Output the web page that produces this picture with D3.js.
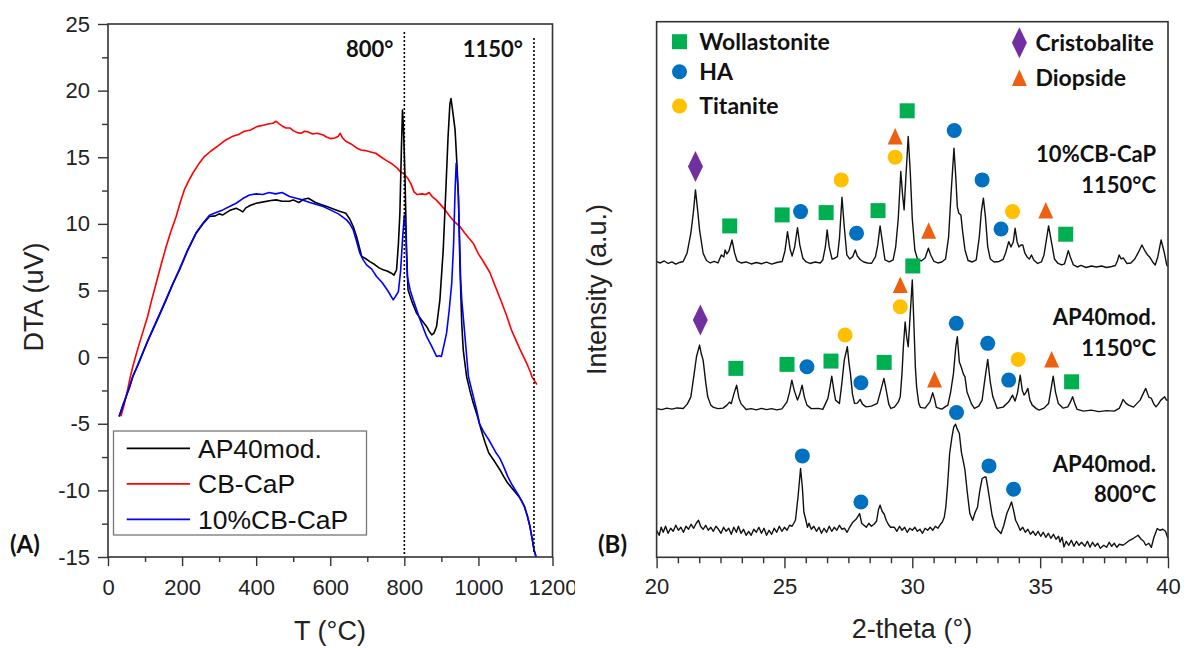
<!DOCTYPE html>
<html>
<head>
<meta charset="utf-8">
<script src="https://cdn.jsdelivr.net/npm/d3@7"></script>
<style>
  html, body { margin: 0; padding: 0; background: #fff; }
  svg { display: block; }
  .num { font-family: "Liberation Sans", Arial, sans-serif; font-size: 22px; fill: #222; }
  .title { font-family: "Liberation Sans", Arial, sans-serif; font-size: 27px; fill: #222; }
  .bold { font-family: Lato, "Open Sans", sans-serif; font-weight: 700; fill: #111; }
</style>
</head>
<body>
<script>
// ---------- Panel A: DTA curves, [temperature °C, DTA uV] ----------
const dtaAP40 = [
  [30,-4.45],[40,-3.7],[49,-2.95],[58,-2.3],[67,-1.45],[80,-0.65],[94,0.3],[107,1.2],[121,2.05],[138,3.1],
  [157,4.3],[175,5.5],[193,6.55],[215,8.0],[238,9.3],[255,9.95],[274,10.55],[290,10.6],[300,10.75],[310,10.67],
  [328,11.0],[346,11.17],[355,11.05],[364,10.9],[372,11.2],[385,11.4],[400,11.55],[420,11.65],[440,11.75],[454,11.8],
  [470,11.7],[490,11.7],[500,11.8],[515,11.6],[528,11.85],[541,11.92],[560,11.6],[575,11.45],[591,11.3],[610,11.1],
  [625,10.95],[642,10.8],[653,10.35],[662,9.8],[671,9.05],[678,8.3],[685,7.55],[695,7.4],[707,7.17],[720,6.95],
  [732,6.7],[743,6.55],[755,6.45],[765,6.3],[772,6.15],[779,6.55],[784,8.5],[788,10.8],[792,15.5],[795,18.55],
  [798,17.0],[802,13.3],[806,8.0],[810,5.05],[820,4.2],[833,3.3],[846,2.8],[860,2.3],[868,1.9],[874,1.67],
  [880,1.8],[887,2.3],[896,4.3],[905,8.05],[912,12.5],[918,16.5],[923,19.0],[926,19.4],[930,18.6],[937,17.05],
  [942,14.5],[946,12.05],[950,7.0],[955,2.5],[959,0.55],[968,-1.45],[977,-2.5],[986,-3.45],[997,-4.4],[1008,-5.5],
  [1018,-6.4],[1028,-7.2],[1043,-7.8],[1058,-8.45],[1068,-8.95],[1079,-9.45],[1094,-9.95],[1109,-10.45],[1117,-10.8],
  [1124,-11.2],[1132,-11.9],[1139,-12.7],[1145,-13.6],[1150,-14.45],[1155,-14.95]
];
const dtaCBCaP = [
  [35,-4.45],[44,-3.5],[53,-2.45],[60,-1.5],[67,-0.7],[76,0.2],[85,1.05],[96,2.05],[107,3.05],[118,4.3],
  [130,5.55],[143,6.9],[157,8.3],[170,9.45],[184,10.55],[195,11.6],[206,12.55],[218,13.25],[229,13.8],[245,14.5],
  [260,15.05],[277,15.45],[297,15.85],[318,16.3],[335,16.55],[352,16.7],[368,16.95],[385,17.05],[402,17.3],[419,17.4],
  [432,17.5],[445,17.55],[454,17.7],[462,17.5],[470,17.35],[480,17.2],[491,17.2],[500,17.0],[511,16.85],[521,16.8],
  [531,16.95],[541,16.9],[552,16.75],[565,16.8],[581,16.67],[591,16.5],[600,16.4],[612,16.45],[621,16.55],[627,16.8],
  [633,16.45],[642,16.2],[656,16.0],[671,15.7],[683,15.55],[695,15.5],[709,15.4],[723,15.3],[738,15.0],[752,14.75],
  [764,14.55],[780,14.2],[790,13.9],[799,13.75],[810,13.4],[818,13.0],[826,12.4],[835,12.2],[848,12.25],[858,12.2],
  [867,12.35],[875,12.05],[886,11.8],[896,11.5],[910,11.05],[923,10.55],[936,10.15],[950,9.8],[962,9.35],[975,8.9],
  [986,8.55],[1000,7.75],[1015,7.1],[1031,6.35],[1045,5.35],[1060,4.3],[1075,3.2],[1089,2.05],[1100,1.35],[1112,0.6],
  [1125,-0.15],[1134,-0.7],[1140,-1.1],[1145,-1.5],[1152,-1.8],[1158,-2.05]
];
const dta10CB = [
  [30,-4.45],[40,-3.6],[49,-2.95],[58,-2.2],[67,-1.45],[80,-0.6],[94,0.35],[107,1.2],[121,2.1],[138,3.15],
  [157,4.35],[175,5.5],[193,6.6],[215,8.05],[238,9.35],[255,10.0],[274,10.65],[292,10.85],[310,11.05],[328,11.3],
  [346,11.55],[364,11.9],[382,12.17],[400,12.25],[418,12.2],[435,12.35],[452,12.25],[470,12.35],[490,12.05],[508,11.92],
  [525,11.8],[545,11.6],[563,11.45],[581,11.3],[600,11.05],[622,10.75],[644,10.3],[653,10.0],[662,9.55],[671,8.7],
  [680,7.8],[689,7.3],[698,6.92],[712,6.6],[725,6.05],[740,5.6],[755,5.0],[770,4.3],[776,4.55],[784,4.92],
  [790,6.5],[795,8.8],[800,10.67],[804,9.5],[808,6.05],[816,5.0],[824,4.3],[840,3.0],[860,1.55],[874,0.8],
  [887,0.05],[894,0.1],[900,0.05],[907,0.9],[914,1.8],[921,3.5],[928,5.55],[933,8.5],[937,12.5],[940,14.55],
  [943,13.5],[946,12.05],[949,9.0],[952,5.8],[955,4.3],[959,3.05],[966,0.8],[973,-1.45],[984,-2.7],[995,-3.95],
  [1003,-5.0],[1012,-5.5],[1022,-5.95],[1028,-6.2],[1038,-6.7],[1048,-7.2],[1058,-7.6],[1068,-8.2],[1079,-8.95],[1089,-9.5],
  [1099,-9.95],[1111,-10.5],[1124,-11.2],[1132,-11.9],[1139,-12.7],[1145,-13.6],[1150,-14.45],[1156,-15.0]
];
const dtaSeriesNames = ["AP40mod.", "CB-CaP", "10%CB-CaP"];
const dtaSeriesColors = ["#000000", "#ff0000", "#0000ff"];
const dtaMarkTemps = [800, 1150];
const dtaMarkLabels = ["800°", "1150°"];
const dtaXTicks = [0, 200, 400, 600, 800, 1000, 1200];
const dtaYTicks = [-15, -10, -5, 0, 5, 10, 15, 20, 25];

// ---------- Panel B: XRD patterns, [2-theta °, intensity a.u. above own baseline] ----------
const xrd10CB1150 = [
  [20.0,5.3],[20.15,4.0],[20.3,6.0],[20.45,3.5],[20.6,5.0],[20.75,2.8],[20.9,4.5],[21.04,5.5],[21.19,13.7],[21.34,33.7],
  [21.44,55],[21.52,77],[21.6,58],[21.68,37],[21.82,13.7],[21.95,6.5],[22.1,4.0],[22.25,5.5],[22.4,4.0],[22.53,12],
  [22.63,10],[22.68,17],[22.75,13],[22.83,16],[22.95,27],[23.05,14],[23.15,6.0],[23.3,4.0],[23.5,5.0],[23.7,3.0],
  [23.9,4.5],[24.1,3.2],[24.3,4.8],[24.5,2.8],[24.7,4.5],[24.91,5.5],[25.02,16],[25.12,35.3],[25.22,18],[25.3,11],
  [25.4,20],[25.51,39.3],[25.6,22],[25.72,8.7],[25.85,5.0],[26.0,3.5],[26.2,5.0],[26.4,4.0],[26.5,7.0],[26.6,20],
  [26.67,37],[26.75,20],[26.86,8.0],[26.95,8.5],[27.07,10.3],[27.15,28],[27.25,69.7],[27.34,40],[27.44,12],[27.55,8.0],
  [27.67,10.3],[27.77,17],[27.85,11],[27.96,7.5],[28.1,5.0],[28.25,4.0],[28.41,3.7],[28.56,10.3],[28.65,22],[28.74,41],
  [28.83,25],[28.93,7.0],[29.1,5.0],[29.25,7.0],[29.35,20],[29.45,48],[29.55,95.3],[29.62,72],[29.68,57],[29.75,90],
  [29.84,130.3],[29.92,95],[30.0,48],[30.1,17],[30.2,8.0],[30.35,6.0],[30.5,9.0],[30.63,18.7],[30.72,12],[30.85,5.5],
  [31.0,4.0],[31.15,5.0],[31.3,8.0],[31.42,30],[31.52,75],[31.63,118.7],[31.7,90],[31.76,60],[31.82,53.7],[31.9,52],
  [31.97,35],[32.06,17],[32.18,6.5],[32.35,5.0],[32.5,7.0],[32.62,30],[32.7,55],[32.78,68.7],[32.86,50],[32.95,20],
  [33.05,8.0],[33.2,5.0],[33.4,5.5],[33.55,7.5],[33.65,14],[33.77,25.3],[33.86,20],[33.95,25],[34.02,38.7],[34.1,25],
  [34.17,20],[34.25,22],[34.32,22],[34.4,14],[34.49,10],[34.58,8.0],[34.66,12],[34.75,7.0],[34.9,3.5],[35.05,5.0],
  [35.15,12],[35.25,28],[35.33,41],[35.42,28],[35.56,8.0],[35.7,3.5],[35.85,2.0],[35.95,3.0],[36.02,9.0],[36.1,16.3],
  [36.18,10],[36.3,2.0],[36.45,0.0],[36.6,1.5],[36.8,-0.5],[37.0,1.0],[37.2,0.0],[37.4,1.0],[37.6,-0.5],[37.8,0.5],
  [37.94,1.5],[38.02,6],[38.09,12],[38.17,8],[38.25,9],[38.39,3.5],[38.55,4.0],[38.7,8.0],[38.83,14],[38.98,22],
  [39.1,16],[39.2,12],[39.28,10],[39.4,5.0],[39.5,2.0],[39.6,10],[39.73,27],[39.85,15],[39.95,2.0],[40.0,0.3]
];
const xrdAP401150 = [
  [20.0,3.5],[20.2,2.5],[20.4,4.0],[20.6,3.0],[20.8,4.2],[21.04,3.7],[21.2,8],[21.34,15.3],[21.45,35],[21.56,55.3],
  [21.68,67],[21.75,58],[21.82,52],[21.92,30],[22.0,15.3],[22.12,7],[22.23,4.7],[22.4,3.5],[22.6,4.0],[22.75,7.0],
  [22.85,10],[22.92,8.5],[23.02,18],[23.13,27],[23.22,14],[23.3,8.5],[23.5,2.7],[23.7,3.5],[23.9,2.2],[24.1,3.8],
  [24.3,2.5],[24.5,3.5],[24.7,2.2],[24.9,3.2],[25.1,10.3],[25.2,20],[25.29,32],[25.38,22],[25.51,12],[25.6,18],
  [25.69,27],[25.78,15],[25.88,7],[26.05,3.5],[26.33,3.7],[26.5,2.8],[26.7,13.7],[26.78,25],[26.85,36],[26.93,22],
  [27.0,12],[27.15,8.7],[27.25,30],[27.34,52],[27.46,65.3],[27.52,50],[27.58,38.7],[27.66,18],[27.74,8.7],[27.85,9.0],
  [27.96,12.7],[28.05,8.0],[28.19,5.3],[28.4,6.0],[28.63,8.7],[28.75,20],[28.89,33.7],[28.98,22],[29.08,8],[29.16,3.7],
  [29.3,5.0],[29.45,10],[29.53,15.3],[29.6,40],[29.65,65],[29.72,90],[29.78,75],[29.84,65.3],[29.9,90],[30.0,132],
  [30.06,90],[30.12,45],[30.17,25],[30.25,9.0],[30.32,4.7],[30.5,4.0],[30.69,10.3],[30.8,19.3],[30.88,12],[30.94,4.7],
  [31.15,3.0],[31.39,7.0],[31.5,20],[31.61,38.7],[31.7,65],[31.76,75.3],[31.84,50],[31.91,45.3],[32.0,38],[32.06,35.3],
  [32.14,20],[32.21,15.3],[32.32,8],[32.43,3.7],[32.6,6.0],[32.73,12],[32.85,35],[32.95,52.7],[33.05,30],[33.15,15.3],
  [33.32,3.7],[33.55,5.0],[33.77,10.3],[33.92,17],[34.02,11],[34.12,20],[34.22,37],[34.3,22],[34.37,17],[34.45,20],
  [34.52,23.7],[34.6,12],[34.69,7],[34.85,3.5],[34.96,2.0],[35.15,4.0],[35.33,8.7],[35.42,22],[35.51,36],[35.6,20],
  [35.71,8.7],[35.9,4.0],[36.08,5.3],[36.18,10],[36.27,15.3],[36.36,8],[36.45,2.7],[36.7,1.0],[37.0,2.0],[37.3,0.5],
  [37.6,1.5],[37.9,1.0],[38.09,3.7],[38.17,8],[38.24,12.7],[38.35,9],[38.46,7],[38.65,5.0],[38.91,12],[39.02,18],
  [39.13,23.7],[39.25,15],[39.35,13.7],[39.45,8],[39.53,5.3],[39.62,8],[39.72,12],[39.87,15.3],[39.94,12],[40.0,12]
];
const xrdAP40800 = [
  [20.0,27],[20.1,22],[20.18,30],[20.26,25],[20.35,31],[20.45,24],[20.55,29],[20.65,26],[20.75,32],[20.85,27],
  [20.95,30],[21.05,25],[21.15,31],[21.25,28],[21.35,33],[21.45,29],[21.55,34],[21.64,37],[21.72,31],[21.82,28],
  [21.92,32],[22.02,27],[22.12,30],[22.22,26],[22.32,31],[22.42,28],[22.52,24],[22.62,30],[22.72,26],[22.82,29],
  [22.92,23],[23.02,30],[23.12,25],[23.2,31],[23.3,24],[23.4,28],[23.5,22],[23.6,26],[23.7,22],[23.8,28],
  [23.9,25],[24.0,30],[24.1,24],[24.2,29],[24.3,22],[24.4,27],[24.5,23],[24.6,29],[24.7,25],[24.8,31],
  [24.9,26],[25.0,30],[25.1,27],[25.2,32],[25.3,31],[25.43,37],[25.53,60],[25.63,88.7],[25.7,70],[25.76,45],
  [25.83,38],[25.9,30],[25.96,34],[26.05,28],[26.15,31],[26.25,26],[26.35,30],[26.45,24],[26.55,29],[26.65,25],
  [26.75,31],[26.85,26],[26.95,30],[27.05,27],[27.15,32],[27.25,28],[27.35,29],[27.45,25],[27.55,30],[27.67,35],
  [27.8,38],[27.94,43.7],[28.02,34],[28.11,32],[28.2,30],[28.3,34],[28.4,31],[28.5,33],[28.6,36],[28.68,48],
  [28.74,52],[28.82,46],[28.9,43],[28.98,37],[29.06,33],[29.15,30],[29.3,30],[29.4,26],[29.5,31],[29.6,27],
  [29.7,30],[29.8,25],[29.9,29],[30.0,27],[30.1,30],[30.2,26],[30.3,28],[30.4,24],[30.5,29],[30.6,27],
  [30.7,30],[30.8,27],[30.9,31],[31.0,29],[31.1,33],[31.17,35],[31.25,40],[31.31,50],[31.38,72],[31.46,103.7],
  [31.55,120],[31.62,130],[31.69,133],[31.76,128],[31.84,123.7],[31.92,105],[32.0,95],[32.06,87],[32.15,65],[32.25,43.7],
  [32.36,37],[32.46,45],[32.55,50],[32.63,65],[32.73,78.7],[32.82,80],[32.88,80.3],[32.95,70],[33.03,57],[33.12,42],
  [33.25,30.3],[33.35,27],[33.47,23.7],[33.58,32],[33.7,44],[33.8,50],[33.88,55.3],[33.96,47],[34.04,37],[34.12,33],
  [34.22,27],[34.32,30],[34.42,25],[34.52,28],[34.62,23],[34.72,26],[34.82,22],[34.92,26],[35.02,21],[35.12,25],
  [35.22,20],[35.32,24],[35.42,19],[35.52,23],[35.62,18],[35.72,21],[35.78,15.3],[35.86,20],[35.93,10.3],[36.02,16],
  [36.12,12],[36.22,17],[36.32,11],[36.42,16],[36.52,12],[36.62,15],[36.75,11],[36.85,16],[36.95,10],[37.05,15],
  [37.15,11],[37.25,14],[37.35,9],[37.49,12],[37.6,10],[37.7,15],[37.8,11],[37.9,14],[38.0,10],[38.1,13],
  [38.24,12],[38.35,14],[38.5,17],[38.65,19],[38.83,22],[38.95,18],[39.05,16],[39.13,12],[39.25,14],[39.35,10],
  [39.45,20],[39.58,28.7],[39.68,27],[39.8,28],[39.9,26],[40.0,18.7]
];
// vertical stacking of the three patterns (a.u.)
const xrdOffsets = [290, 145, 0];
const xrdLabels = [["10%CB-CaP", "1150°C"], ["AP40mod.", "1150°C"], ["AP40mod.", "800°C"]];
const xrdXTicks = [20, 25, 30, 35, 40];

// phase reflections: [pattern index, 2-theta, intensity above baseline]
const wollastonitePeaks = [
  [0,22.86,41],[0,24.91,52],[0,26.63,54.3],[0,28.66,56.3],[0,29.8,156],[0,36.0,32.7],
  [1,23.1,43.7],[1,25.1,47.7],[1,26.82,51],[1,28.9,49.7],[1,30.02,146],[1,36.23,30.3]
];
const haPeaks = [
  [0,25.63,55.3],[0,27.82,33.7],[0,31.64,136.3],[0,32.73,87],[0,33.47,38],
  [1,25.88,45.3],[1,27.99,29.3],[1,31.72,88.7],[1,32.95,68.7],[1,33.77,32],
  [2,25.7,101.3],[2,27.99,55.3],[2,31.73,144.7],[2,33.0,91.3],[2,33.96,68]
];
const titanitePeaks = [
  [0,27.22,87],[0,29.33,109.7],[0,33.92,55.3],
  [1,27.37,77],[1,29.53,105.3],[1,34.14,52.7]
];
const cristobalitePeaks = [[0,21.52,100.3],[1,21.71,92]];
const diopsidePeaks = [
  [0,29.33,130.3],[0,30.64,36.3],[0,35.22,56.3],
  [1,29.53,127],[1,30.87,32.7],[1,35.45,52.7]
];
const phaseNames = ["Wollastonite", "HA", "Titanite", "Cristobalite", "Diopside"];
const phaseColors = ["#00b050", "#0070c0", "#ffc000", "#7030a0", "#ee6011"];
const phaseShapes = ["square", "circle", "circle", "diamond", "triangle"];

// ---------- drawing ----------
const W = 1187, H = 648;
const svg = d3.select("body").append("svg").attr("width", W).attr("height", H);
svg.append("rect").attr("width", W).attr("height", H).attr("fill", "#fff");
const defs = svg.append("defs");
defs.append("clipPath").attr("id", "clipA")
  .append("rect").attr("x", 0).attr("y", 0).attr("width", 575).attr("height", H);

const AXIS = "#333";
const plainNumber = d => String(d);   // keeps an ASCII hyphen for negatives

function styleAxis(g, width) {
  g.selectAll(".domain").remove();
  g.selectAll(".tick line").attr("stroke", AXIS).attr("stroke-width", width);
  g.selectAll(".tick text").attr("class", "num").attr("fill", "#222");
}

// ===== Panel A =====
const gA = svg.append("g").attr("clip-path", "url(#clipA)");
const xA = d3.scaleLinear().domain([0, 1200]).range([108, 552.5]);
const yA = d3.scaleLinear().domain([-15, 25]).range([557, 24]);

// minor ticks
gA.append("g").attr("transform", `translate(0,${yA(-15)})`)
  .call(d3.axisBottom(xA).tickValues(d3.range(100, 1200, 200)).tickSize(5).tickFormat(""))
  .call(g => styleAxis(g, 1.4));
gA.append("g").attr("transform", `translate(${xA(0)},0)`)
  .call(d3.axisLeft(yA).tickValues(d3.range(-12.5, 25, 5)).tickSize(6).tickFormat(""))
  .call(g => styleAxis(g, 1.4));
// major ticks
gA.append("g").attr("transform", `translate(0,${yA(-15)})`)
  .call(d3.axisBottom(xA).tickValues(dtaXTicks).tickSize(9).tickPadding(13).tickFormat(plainNumber))
  .call(g => styleAxis(g, 1.4));
gA.append("g").attr("transform", `translate(${xA(0)},0)`)
  .call(d3.axisLeft(yA).tickValues(dtaYTicks).tickSize(10).tickPadding(8).tickFormat(plainNumber))
  .call(g => styleAxis(g, 1.4));

// curves
const lineA = d3.line().x(d => xA(d[0])).y(d => yA(d[1]));
[dtaCBCaP, dtaAP40, dta10CB].forEach((s, i) => {
  const idx = [1, 0, 2][i];
  gA.append("path").datum(s).attr("d", lineA)
    .attr("fill", "none").attr("stroke", dtaSeriesColors[idx])
    .attr("stroke-width", 1.6).attr("stroke-linejoin", "round");
});

// dotted reference temperatures
dtaMarkTemps.forEach((t, i) => {
  const top = i === 0 ? 32 : 38;
  gA.append("line").attr("x1", xA(t)).attr("x2", xA(t)).attr("y1", top).attr("y2", 554)
    .attr("stroke", "#000").attr("stroke-width", 1.6).attr("stroke-dasharray", "2,2");
  gA.append("text").attr("class", "bold").attr("x", xA(t) - 11).attr("y", 57)
    .attr("text-anchor", "end").style("font-size", "22px").text(dtaMarkLabels[i]);
});

// frame
gA.append("rect").attr("x", xA(0)).attr("y", yA(25))
  .attr("width", xA(1200) - xA(0)).attr("height", yA(-15) - yA(25))
  .attr("fill", "none").attr("stroke", AXIS).attr("stroke-width", 1.6);

// legend
const legA = gA.append("g");
legA.append("rect").attr("x", 113.5).attr("y", 431).attr("width", 253).attr("height", 104)
  .attr("fill", "#fff").attr("stroke", "#777").attr("stroke-width", 1.3);
dtaSeriesNames.forEach((n, i) => {
  const y = 448.3 + i * 35.5;
  legA.append("line").attr("x1", 126.7).attr("x2", 190).attr("y1", y).attr("y2", y)
    .attr("stroke", dtaSeriesColors[i]).attr("stroke-width", 1.8);
  legA.append("text").attr("x", 198).attr("y", y + 9.5)
    .style("font-family", "'Liberation Sans', Arial, sans-serif").style("font-size", "26.5px")
    .attr("fill", "#111").text(n);
});

// titles
svg.append("text").attr("class", "title").attr("x", 330).attr("y", 640)
  .attr("text-anchor", "middle").text("T (°C)");
svg.append("text").attr("class", "title").attr("text-anchor", "middle")
  .attr("transform", "translate(43,297) rotate(-90)").text("DTA (uV)");
svg.append("text").attr("class", "bold").attr("x", 10).attr("y", 553)
  .style("font-size", "24px").text("(A)");

// ===== Panel B =====
const gB = svg.append("g");
const xB = d3.scaleLinear().domain([20, 40]).range([656.6, 1168]);
const yB = d3.scaleLinear().domain([0, 535]).range([557.3, 21.7]);

gB.append("g").attr("transform", `translate(0,${yB(0)})`)
  .call(d3.axisBottom(xB).tickValues(d3.range(0, 24).map(k => 20 + k * 5 / 6).filter(v => Math.abs((v - 20) % 5) > 0.01 && Math.abs((v - 20) % 5 - 5) > 0.01)).tickSize(6).tickFormat(""))
  .call(g => styleAxis(g, 1.4));
gB.append("g").attr("transform", `translate(0,${yB(0)})`)
  .call(d3.axisBottom(xB).tickValues(xrdXTicks).tickSize(11).tickPadding(10).tickFormat(plainNumber))
  .call(g => styleAxis(g, 1.4));

const lineB = d3.line().x(d => xB(d[0])).y(d => yB(d[1]));
[xrd10CB1150, xrdAP401150, xrdAP40800].forEach((s, i) => {
  gB.append("path").datum(s.map(d => [d[0], d[1] + xrdOffsets[i]])).attr("d", lineB)
    .attr("fill", "none").attr("stroke", "#111").attr("stroke-width", 1.4)
    .attr("stroke-linejoin", "round");
});

function symbolPath(shape) {
  if (shape === "square") return "M-7.5,-7.5H7.5V7.5H-7.5Z";
  if (shape === "diamond") return "M0,-15.5L7.5,0L0,15.5L-7.5,0Z";
  if (shape === "triangle") return "M0,-8.5L7.5,8L-7.5,8Z";
  return "M7.5,0A7.5,7.5 0 1,1 -7.5,0A7.5,7.5 0 1,1 7.5,0Z";
}

const phaseSets = [wollastonitePeaks, haPeaks, titanitePeaks, cristobalitePeaks, diopsidePeaks];
phaseSets.forEach((set, p) => {
  gB.selectAll(null).data(set).enter().append("path")
    .attr("d", symbolPath(phaseShapes[p]))
    .attr("transform", d => `translate(${xB(d[1])},${yB(d[2] + xrdOffsets[d[0]])})`)
    .attr("fill", phaseColors[p]);
});

// pattern labels
xrdLabels.forEach((lab, i) => {
  const ys = [[161.7, 192.7], [325, 356], [471.7, 501.7]][i];
  lab.forEach((t, j) => {
    gB.append("text").attr("class", "bold").attr("x", 1156).attr("y", ys[j])
      .attr("text-anchor", "end").style("font-size", "22px").text(t);
  });
});

// phase legend
const legB = [
  [679.5, 41.7, 699.3], [679.5, 71.7, 699.3], [679.5, 106, 699.3],
  [1019.4, 42.7, 1035.4], [1019.4, 78, 1035.4]
];
phaseNames.forEach((n, p) => {
  const [sx, sy, tx] = legB[p];
  gB.append("path").attr("d", symbolPath(phaseShapes[p]))
    .attr("transform", `translate(${sx},${sy})`).attr("fill", phaseColors[p]);
  gB.append("text").attr("class", "bold").attr("x", tx).attr("y", sy + 8)
    .style("font-size", "23px").text(n);
});

// frame
gB.append("rect").attr("x", xB(20)).attr("y", yB(535))
  .attr("width", xB(40) - xB(20)).attr("height", yB(0) - yB(535))
  .attr("fill", "none").attr("stroke", AXIS).attr("stroke-width", 1.6);

svg.append("text").attr("class", "title").attr("x", 912).attr("y", 638)
  .attr("text-anchor", "middle").text("2-theta (°)");
svg.append("text").attr("class", "title").attr("text-anchor", "middle")
  .attr("transform", "translate(606,289.5) rotate(-90)").text("Intensity (a.u.)");
svg.append("text").attr("class", "bold").attr("x", 598).attr("y", 553)
  .style("font-size", "24px").text("(B)");
</script>
</body>
</html>
